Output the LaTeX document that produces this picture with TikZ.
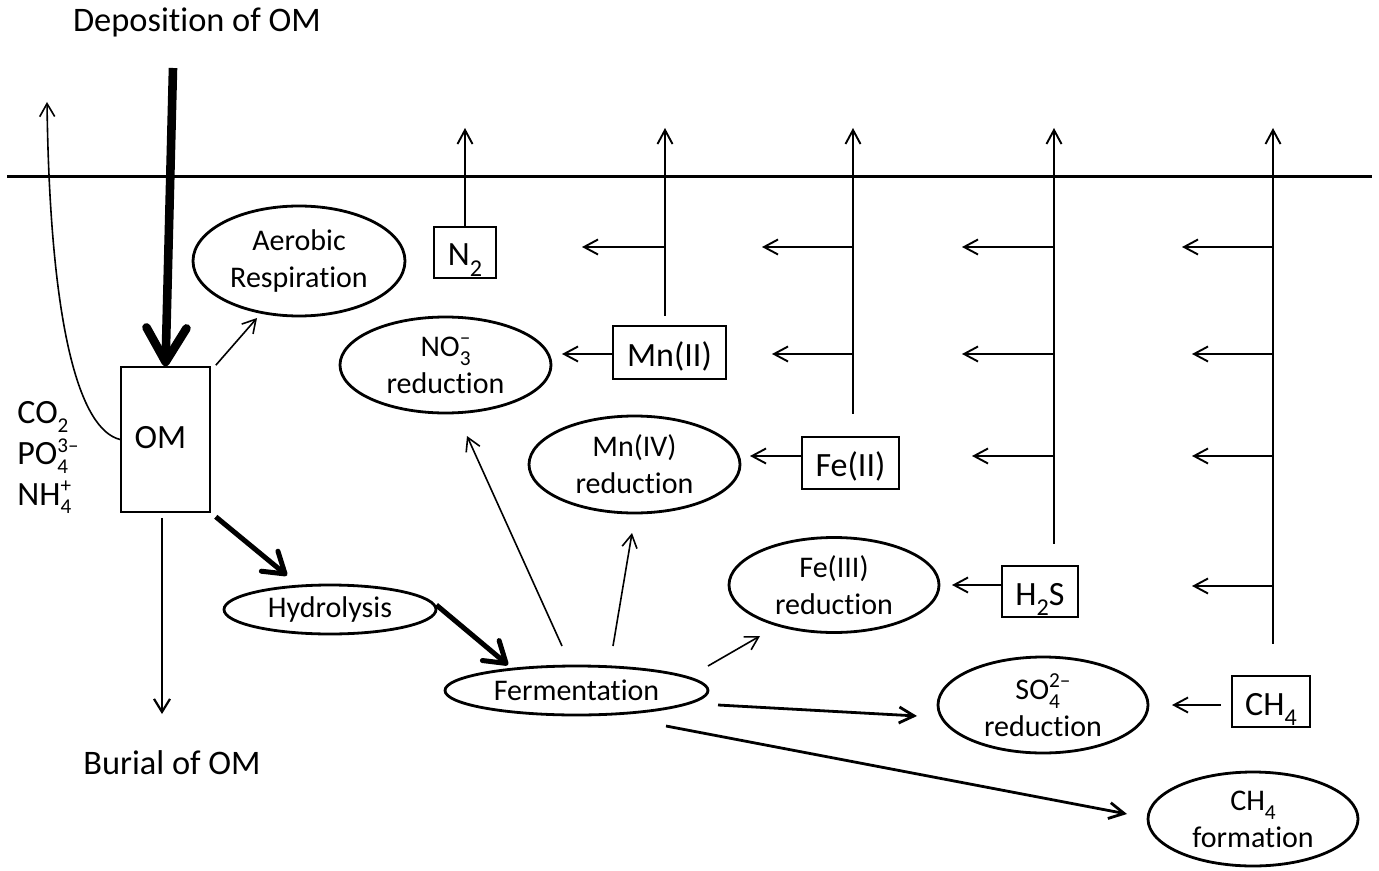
\documentclass[tikz,border=0pt]{standalone}
\usepackage{fontspec}
\setmainfont{Carlito}[Ligatures=NoCommon]
\usetikzlibrary{arrows.meta,shapes.geometric}
\makeatletter
\newcommand\chsmall{\fontsize{\strip@pt\dimexpr0.71\dimexpr\f@size pt\relax\relax}{1}\selectfont}
\newcommand\ionsmall{\fontsize{\strip@pt\dimexpr0.62\dimexpr\f@size pt\relax\relax}{1}\selectfont}
\makeatother
\newcommand\chsub[1]{\raisebox{-0.3em}{\chsmall #1}}
\newcommand\chsubsup[2]{\rlap{\raisebox{-0.3em}{\chsmall #1}}\raisebox{0.38em}{\chsmall #2}}
\newcommand\ionsub[1]{\raisebox{-0.26em}{\ionsmall #1}}
\newcommand\ionsubsup[2]{\rlap{\raisebox{-0.26em}{\ionsmall #1}}\raisebox{0.36em}{\ionsmall #2}}
\begin{document}
\lineskiplimit=-20pt
\begin{tikzpicture}[x=0.5pt,y=-0.5pt,
  ell/.style={draw, line width=1.4pt, ellipse, inner sep=0pt, align=center, font=\fontsize{15}{18.5}\selectfont},
  boxn/.style={draw, line width=1.2pt, rectangle, inner sep=0pt, text height=13.5pt, text depth=0pt, font=\fontsize{17}{20}\selectfont},
  lbl/.style={font=\fontsize{17.2}{20}\selectfont, inner sep=0pt, anchor=base},
  ion/.style={font=\fontsize{17}{20.3}\selectfont, inner sep=0pt, align=left},
  arrthin/.style={line width=0.8pt, -{Straight Barb[length=6.5pt,width=7.5pt]}},
  colarr/.style={line width=0.95pt, -{Straight Barb[length=7pt,width=7.5pt]}},
  medarr/.style={line width=1.4pt, -{Straight Barb[length=7.5pt,width=8pt]}},
  burarr/.style={line width=1.1pt, -{Straight Barb[length=6.5pt,width=8pt]}},
  thickarr/.style={line width=2.5pt, -{Straight Barb[length=10pt,width=13pt,round]}},
  deparr/.style={line width=4.3pt, -{Straight Barb[length=17pt,width=20pt,round]}},
  surf/.style={line width=1.5pt}
]
\useasboundingbox (0,0) rectangle (1379,871);

% free labels
\node[lbl] (dep) at (197,32) {Deposition of OM};
\node[lbl] (bur) at (172,774) {Burial of OM};
\node[ion, anchor=base west] (ions) at (17,505) {CO\ionsub{2}\\PO\ionsubsup{4}{3–}\\NH\ionsubsup{4}{+}};

% boxes
\node[boxn, minimum width=44.5pt, minimum height=72.5pt, line width=0.8pt, text height=8.5pt] (OM) at (165.5,439.5) {\hspace*{-5pt}OM};
\node[boxn, minimum width=31pt, minimum height=25.5pt] (N2) at (465,252.5) {N\chsub{2}};
\node[boxn, minimum width=56.5pt, minimum height=26.5pt] (MnII) at (669.5,352.5) {Mn(II)};
\node[boxn, minimum width=48.5pt, minimum height=26pt] (FeII) at (850.5,463) {Fe(II)};
\node[boxn, minimum width=38pt, minimum height=25.5pt] (H2S) at (1040,591.5) {H\chsub{2}S};
\node[boxn, minimum width=39pt, minimum height=25.5pt] (CH4) at (1271,701.5) {CH\chsub{4}};

% ellipses
\node[ell, minimum width=106pt, minimum height=55pt] (aer) at (299,261) {Aerobic\\Respiration};
\node[ell, minimum width=106pt, minimum height=24.5pt] (hyd) at (330,609.5) {Hydrolysis};
\node[ell, minimum width=131.5pt, minimum height=24.5pt] (fer) at (576.5,690.5) {Fermentation};
\node[ell, minimum width=105.5pt, minimum height=48pt] (no3) at (445.5,365) {NO\chsubsup{3}{–}\\reduction};
\node[ell, minimum width=105.5pt, minimum height=48.5pt] (mn4) at (634.5,464.5) {Mn(IV)\\reduction};
\node[ell, minimum width=105pt, minimum height=47.5pt] (fe3) at (834,585) {Fe(III)\\reduction};
\node[ell, minimum width=105pt, minimum height=48pt] (so4) at (1043,705) {SO\chsubsup{4}{2–}\\reduction};
\node[ell, minimum width=105pt, minimum height=47pt] (ch4f) at (1253,819) {CH\chsub{4}\\formation};

% coordinates
\coordinate (depTop) at (173,68);
\coordinate (co2Top) at (47,102);
\coordinate (burEnd) at (162,714);
\coordinate (surfL) at (7,177);
\coordinate (surfR) at (1372,177);
\coordinate (topY) at (0,128);
\coordinate (bMn) at ([shift={(-4.5,-9)}]MnII.north);
\coordinate (bFe) at ([shift={(2.5,-22)}]FeII.north);
\coordinate (bS) at ([shift={(14,-21)}]H2S.north);
\coordinate (bC) at ([shift={(2,-31)}]CH4.north);
\coordinate (tA1) at (582,247);
\coordinate (tA2) at (762,247);
\coordinate (tA3) at (962,247);
\coordinate (tA4) at (1182,247);
\coordinate (tB2) at (772,354);
\coordinate (tB3) at (962,354);
\coordinate (tB4) at (1192,354);
\coordinate (tC3) at (972,456);
\coordinate (tC4) at (1192,456);
\coordinate (tD4) at (1192,586);

% sediment surface
\draw[surf] (surfL) -- (surfR);

% OM fluxes
\draw[deparr] (depTop) -- (OM.north);
\draw[arrthin] (OM.west) .. controls (80,430) and (50,330) .. (co2Top);
\draw[burarr] ([shift={(-3.5,5)}]OM.south) -- (burEnd);
\draw[arrthin] ([shift={(5,-1)}]OM.north east) -- ([shift={(-42,57)}]aer.center);
\draw[thickarr] ([shift={(5,4)}]OM.south east) -- ([shift={(-43,-34)}]hyd.center);
\draw[thickarr] ([shift={(-1,-4.5)}]hyd.east) -- ([shift={(-68.5,-25.5)}]fer.center);

% from fermentation
\draw[arrthin] ([shift={(-14.5,-44.5)}]fer.center) -- ([shift={(21.5,71)}]no3.center);
\draw[arrthin] ([shift={(36.5,-44.5)}]fer.center) -- ([shift={(-2.5,68.5)}]mn4.center);
\draw[arrthin] ([shift={(131.5,-24.5)}]fer.center) -- ([shift={(-74,51)}]fe3.center);
\draw[medarr] ([shift={(141.5,14.5)}]fer.center) -- ([shift={(-126,11)}]so4.center);
\draw[medarr] ([shift={(89.5,35.5)}]fer.center) -- ([shift={(-126,-5)}]ch4f.center);

% reduced species to oxidants
\draw[colarr] ([shift={(0,1.5)}]MnII.west) -- ([shift={(116.5,-11)}]no3.center);
\draw[colarr] ([shift={(0,-7)}]FeII.west) -- ([shift={(115.5,-8.5)}]mn4.center);
\draw[colarr] ([shift={(0,-6.5)}]H2S.west) -- ([shift={(118,0)}]fe3.center);
\draw[colarr] ([shift={(-10,3.5)}]CH4.west) -- ([shift={(129,0)}]so4.center);

% upward columns
\draw[colarr] (N2.north) -- (N2.north |- topY);
\draw[colarr] (bMn) -- (bMn |- topY);
\draw[colarr] (bFe) -- (bFe |- topY);
\draw[colarr] (bS) -- (bS |- topY);
\draw[colarr] (bC) -- (bC |- topY);

% branches
\draw[colarr] (bMn |- tA1) -- (tA1);
\draw[colarr] (bFe |- tA2) -- (tA2);
\draw[colarr] (bS |- tA3) -- (tA3);
\draw[colarr] (bC |- tA4) -- (tA4);
\draw[colarr] (bFe |- tB2) -- (tB2);
\draw[colarr] (bS |- tB3) -- (tB3);
\draw[colarr] (bC |- tB4) -- (tB4);
\draw[colarr] (bS |- tC3) -- (tC3);
\draw[colarr] (bC |- tC4) -- (tC4);
\draw[colarr] (bC |- tD4) -- (tD4);
\end{tikzpicture}
\end{document}
